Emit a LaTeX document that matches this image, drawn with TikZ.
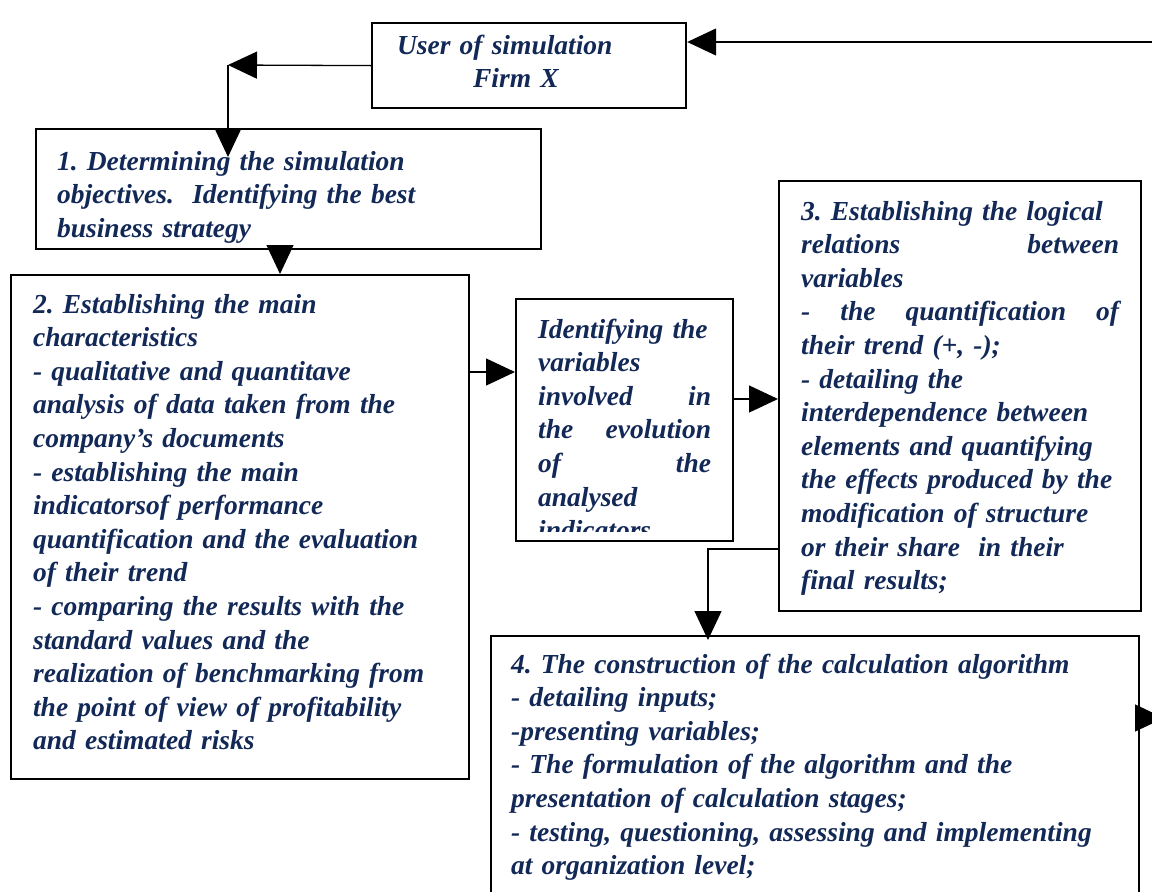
\documentclass[tikz,border=0pt]{standalone}
\usepackage{fontspec}
\setmainfont{Liberation Serif}
\usetikzlibrary{arrows.meta,positioning,calc}
\definecolor{inkblue}{RGB}{18,40,86}
\tikzset
{
	stepbox/.style = {draw=black, line width=2.2pt, anchor=north west, align=left, inner ysep=0pt, text=inkblue},
	steptext/.style = {font=\frenchspacing\fontsize{#1}{33.6}\selectfont\bfseries\itshape},
	frame/.style = {draw=black, line width=2.2pt},
	flow/.style = {draw=black, line width=1.3pt, -{Triangle[length=29pt,width=27pt]}}
}

\begin{document}
\begin{tikzpicture}[x=1pt,y=-1pt]
\clip (0,0) rectangle (1152,892);
% user of the simulation
\node[stepbox, steptext=27.5, inner xsep=25pt, text width=264pt, text height=31pt, text depth=54pt] (user) at (371,22) {User of simulation\\\hspace*{76pt}Firm X};
% step 1, text cut at the bottom
\begin{scope}
\clip (33,127) rectangle (542,242);
\node[stepbox, steptext=27.5, draw=none, inner xsep=21pt, text width=463pt, text height=41pt, text depth=79pt] (step1) at (35,128) {1. Determining the simulation\\objectives.\ \ Identifying the best\\business strategy};
\end{scope}
\draw[frame] ([shift={(1.1,1.1)}]step1.north west) rectangle ([shift={(-1.1,-1.1)}]step1.south east);
% step 2
\node[stepbox, steptext=27.5, inner xsep=22pt, text width=414pt, text height=38pt, text depth=466pt] (step2) at (10,274) {2. Establishing the main\\characteristics\\- qualitative and quantitave\\analysis of data taken from the\\company’s documents\\- establishing the main\\indicatorsof performance\\quantification and the evaluation\\of their trend\\- comparing the results with the\\standard values and the\\realization of benchmarking from\\the point of view of profitability\\and estimated risks};
% variables, text cut at the bottom
\begin{scope}
\clip (513,297) rectangle (734,531);
\node[stepbox, steptext=27.5, draw=none, inner xsep=22pt, text width=173pt, text height=39pt, text depth=203pt] (vars) at (515,298) {Identifying the\\variables\\involved\hfill in\\the\hfill evolution\\of\hfill the\\analysed\\indicators};
\end{scope}
\draw[frame] ([shift={(1.1,1.1)}]vars.north west) rectangle ([shift={(-1.1,-1.1)}]vars.south east);
% step 3
\node[stepbox, steptext=27.5, inner xsep=22pt, text width=318pt, text height=39pt, text depth=391pt] (step3) at (778,180) {3. Establishing the logical\\relations\hfill between\\variables\\-\hfill the\hfill quantification\hfill of\\their trend (+, -);\\- detailing the\\interdependence between\\elements and quantifying\\the effects produced by the\\modification of structure\\or their share\ \ in their\\final results;};
% step 4
\node[stepbox, steptext=27.5, inner xsep=20pt, text width=608pt, text height=37pt, text depth=228pt] (step4) at (490,635) {4. The construction of the calculation algorithm\\- detailing inputs;\\-presenting variables;\\- The formulation of the algorithm and the\\presentation of calculation stages;\\- testing, questioning, assessing and implementing\\at organization level;};

% connectors
\coordinate (feedback) at (1160,42);
\coordinate (bend) at (228,65);
\coordinate (onward) at (1164,718);
\draw[flow] (feedback) -- (feedback -| user.east);
\draw[flow] (user.west) -- (bend);
\draw[flow] (bend) -- (bend |- 0,157);
\draw[flow] (step1.south -| 280,0) -- (step2.north -| 280,0);
\draw[flow] (step2.east |- 0,372) -- (vars.west |- 0,372);
\draw[flow] (vars.east |- 0,399) -- (step3.west |- 0,399);
\draw[flow] (step3.west |- 0,549) -| ($(step4.north -| 708,0)+(0,5)$);
\draw[flow] (step4.east |- 0,718) -- (onward);
\end{tikzpicture}
\end{document}
